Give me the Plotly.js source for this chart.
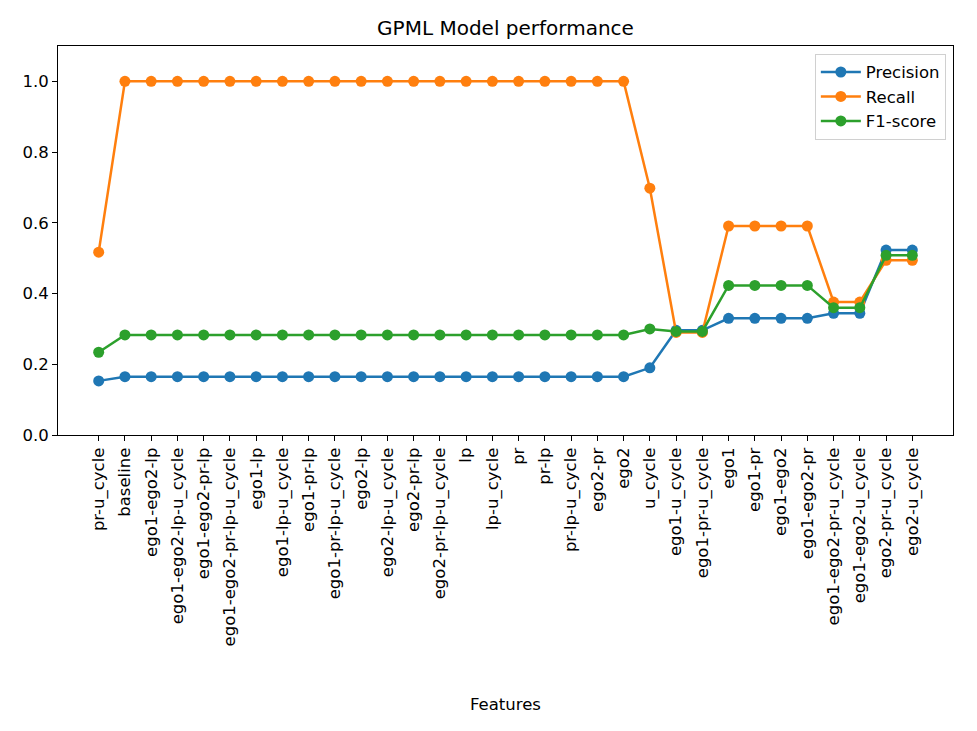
<!DOCTYPE html>
<html>
<head>
<meta charset="utf-8">
<script src="https://cdn.plot.ly/plotly-3.0.1.min.js"></script>
<style>html,body{margin:0;padding:0;background:#fff;}#chart{width:977px;height:731px;}</style>
</head>
<body>
<div id="chart"></div>
<script>
const features = ["pr-u_cycle","baseline","ego1-ego2-lp","ego1-ego2-lp-u_cycle","ego1-ego2-pr-lp","ego1-ego2-pr-lp-u_cycle","ego1-lp","ego1-lp-u_cycle","ego1-pr-lp","ego1-pr-lp-u_cycle","ego2-lp","ego2-lp-u_cycle","ego2-pr-lp","ego2-pr-lp-u_cycle","lp","lp-u_cycle","pr","pr-lp","pr-lp-u_cycle","ego2-pr","ego2","u_cycle","ego1-u_cycle","ego1-pr-u_cycle","ego1","ego1-pr","ego1-ego2","ego1-ego2-pr","ego1-ego2-pr-u_cycle","ego1-ego2-u_cycle","ego2-pr-u_cycle","ego2-u_cycle"];
const precision = [0.153,0.165,0.165,0.165,0.165,0.165,0.165,0.165,0.165,0.165,0.165,0.165,0.165,0.165,0.165,0.165,0.165,0.165,0.165,0.165,0.165,0.190,0.296,0.296,0.330,0.330,0.330,0.330,0.344,0.344,0.523,0.523];
const recall = [0.517,1.0,1.0,1.0,1.0,1.0,1.0,1.0,1.0,1.0,1.0,1.0,1.0,1.0,1.0,1.0,1.0,1.0,1.0,1.0,1.0,0.698,0.290,0.290,0.591,0.591,0.591,0.591,0.376,0.376,0.494,0.494];
const f1 = [0.234,0.283,0.283,0.283,0.283,0.283,0.283,0.283,0.283,0.283,0.283,0.283,0.283,0.283,0.283,0.283,0.283,0.283,0.283,0.283,0.283,0.300,0.293,0.293,0.423,0.423,0.423,0.423,0.360,0.360,0.508,0.508];

const idx = features.map((_, i) => i);
function trace(name, y, color) {
  return {x: idx, y: y, name: name, type: 'scatter', mode: 'lines+markers',
    line: {color: color, width: 2.5}, marker: {color: color, size: 11}};
}
const data = [
  trace('Precision', precision, '#1f77b4'),
  trace('Recall', recall, '#ff7f0e'),
  trace('F1-score', f1, '#2ca02c')
];
const layout = {
  width: 977, height: 731,
  font: {family: 'DejaVu Sans', size: 16, color: '#000'},
  paper_bgcolor: '#fff', plot_bgcolor: '#fff',
  margin: {l: 58, r: 24, t: 46, b: 296},
  title: {text: 'GPML Model performance', font: {size: 20}, xref: 'paper', x: 0.5, xanchor: 'center', y: 0.962, yanchor: 'middle'},
  showlegend: true,
  legend: {x: 0.992, xanchor: 'right', y: 0.98, yanchor: 'top', bordercolor: '#d0d0d0', borderwidth: 1,
    bgcolor: 'rgba(255,255,255,0.8)', font: {size: 16.5}, tracegroupgap: 0, itemwidth: 40},
  xaxis: {
    range: [-1.55, 32.55], tickmode: 'array', tickvals: idx, ticktext: features,
    tickangle: -90, ticks: 'outside', ticklen: 5, tickcolor: '#000', tickfont: {size: 16.5},
    showgrid: false, zeroline: false, showline: true, mirror: true, linecolor: '#000', linewidth: 1,
    title: {text: 'Features', font: {size: 16.5}, standoff: 52},
    automargin: false
  },
  yaxis: {
    range: [0, 1.1], tickvals: [0, 0.2, 0.4, 0.6, 0.8, 1.0], tickformat: '.1f',
    ticks: 'outside', ticklen: 5, tickcolor: '#000', tickfont: {size: 16.5},
    showgrid: false, zeroline: false, showline: true, mirror: true, linecolor: '#000', linewidth: 1,
    automargin: false
  }
};
Plotly.newPlot('chart', data, layout, {displayModeBar: false, staticPlot: true});
</script>
</body>
</html>
